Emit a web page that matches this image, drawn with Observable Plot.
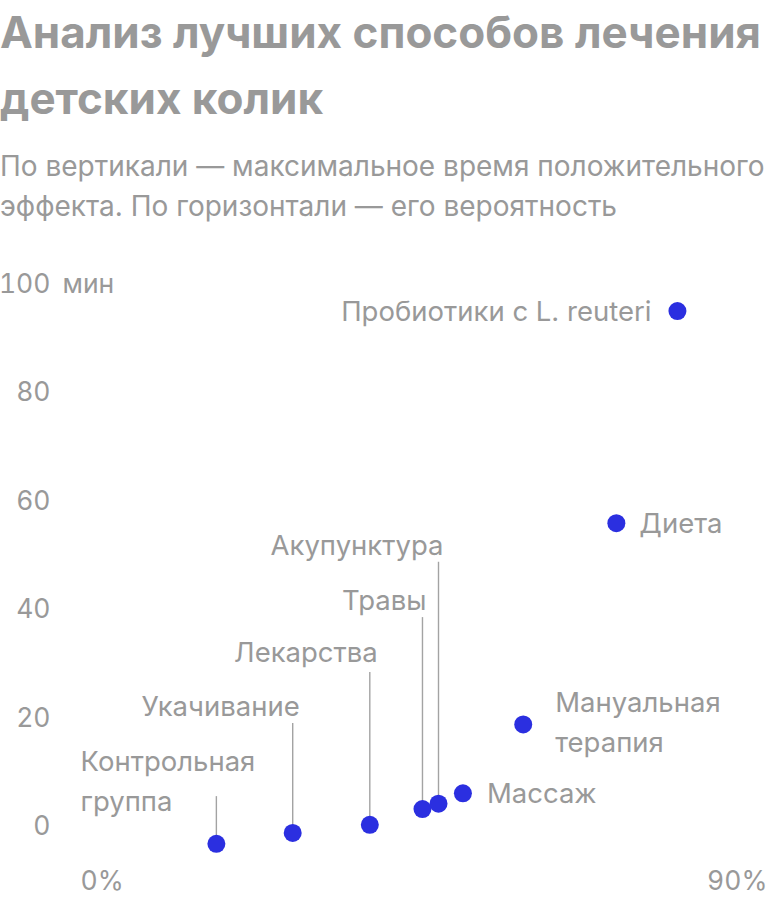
<!DOCTYPE html>
<html>
<head>
<meta charset="utf-8">
<script src="https://cdn.jsdelivr.net/npm/d3@7"></script>
<script src="https://cdn.jsdelivr.net/npm/@observablehq/plot@0.6"></script>
<style>
  html, body { margin: 0; padding: 0; background: #fff; }
  body { width: 768px; font-family: Inter, "Noto Sans", sans-serif; color: #999; }
  h1 { margin: -1px 0 0 0; font: 700 44px/66px Inter, Roboto, sans-serif; color: #999; letter-spacing: 0; white-space: nowrap; }
  .sub { margin: 15px 0 0 0; font: 400 28px/40px Inter, sans-serif; color: #999; white-space: nowrap; }
  #chart { margin-top: 14px; }
  #chart svg { display: block; }
</style>
</head>
<body>
<h1>Анализ лучших способов лечения<br>детских колик</h1>
<div class="sub">По вертикали — максимальное время положительного<br>эффекта. По горизонтали — его вероятность</div>
<div id="chart"></div>
<script>
// Data
const methods = ["Контрольная группа", "Укачивание", "Лекарства", "Травы", "Акупунктура", "Массаж", "Мануальная терапия", "Диета", "Пробиотики с L. reuteri"];
const probability = [17.8, 27.8, 37.9, 44.8, 46.9, 50.1, 58.0, 70.2, 78.2];   // %
const maxMinutes = [-3.1, -1.1, 0.4, 3.3, 4.3, 6.2, 18.9, 56.0, 95.1];          // min
const yTicks = [0, 20, 40, 60, 80, 100];
const xTicks = [0, 90];

const data = methods.map((name, i) => ({ name, x: probability[i], y: maxMinutes[i] }));

// Label layout (annotation placement)
const layout = {
  "Контрольная группа": { text: "Контрольная\nгруппа", anchor: "start", atX: 0, ly: 8.4, lead: 5.6, dx: 0 },
  "Укачивание": { text: "Укачивание", anchor: "end", ly: 22.3, lead: 19.1, dx: 7 },
  "Лекарства": { text: "Лекарства", anchor: "end", ly: 32.2, lead: 28.5, dx: 8 },
  "Травы": { text: "Травы", anchor: "end", ly: 41.8, lead: 38.6, dx: 4 },
  "Акупунктура": { text: "Акупунктура", anchor: "end", ly: 51.9, lead: 48.8, dx: 5 },
  "Массаж": { text: "Массаж", anchor: "start", dx: 24 },
  "Мануальная терапия": { text: "Мануальная\nтерапия", anchor: "start", dx: 32, dy: -2 },
  "Диета": { text: "Диета", anchor: "start", dx: 23 },
  "Пробиотики с L. reuteri": { text: "Пробиотики с L. reuteri", anchor: "end", dx: -26 }
};

const grey = "#999999";
const blue = "#2b2fe0";

const leaders = data.filter(d => layout[d.name].lead !== undefined)
  .map(d => ({ x: d.x, y1: d.y, y2: layout[d.name].lead }));

const labelMarks = data.map(d => {
  const L = layout[d.name];
  return Plot.text([d], {
    x: L.atX !== undefined ? () => L.atX : "x",
    y: L.ly !== undefined ? () => L.ly : "y",
    text: () => L.text,
    textAnchor: L.anchor,
    dx: L.dx || 0,
    dy: (L.dy || 0) - 3,
    fill: grey,
    fontSize: 27.5,
    lineHeight: 1.43
  });
});

const chart = Plot.plot({
  width: 768,
  height: 660,
  marginLeft: 80,
  marginRight: 1,
  marginTop: 44,
  marginBottom: 73.5,
  style: { fontFamily: "Inter, 'Noto Sans', sans-serif", background: "#fff", overflow: "visible" },
  x: { domain: [0, 90], label: null },
  y: { domain: [0, 100], label: null },
  marks: [
    Plot.axisY({ ticks: yTicks, tickSize: 0, tickPadding: 30, fontSize: 26.5, fill: grey, label: null, tickFormat: d => `${d}` }),
    Plot.text([100], { y: d => d, frameAnchor: "left", dx: -18, textAnchor: "start", text: () => "мин", fontSize: 26.5, fill: grey }),
    Plot.axisX({ ticks: [xTicks[0]], tickSize: 0, tickPadding: 44, fontSize: 26.5, fill: grey, label: null, textAnchor: "start", tickFormat: d => `${d}%` }),
    Plot.axisX({ ticks: [xTicks[1]], tickSize: 0, tickPadding: 44, fontSize: 26.5, fill: grey, label: null, textAnchor: "end", tickFormat: d => `${d}%` }),
    Plot.ruleX(leaders, { x: "x", y1: "y1", y2: "y2", stroke: "#a3a3a3", strokeWidth: 1.4 }),
    ...labelMarks,
    Plot.dot(data, { x: "x", y: "y", r: 9, fill: blue, stroke: "none" })
  ]
});
document.getElementById("chart").appendChild(chart);
</script>
</body>
</html>
